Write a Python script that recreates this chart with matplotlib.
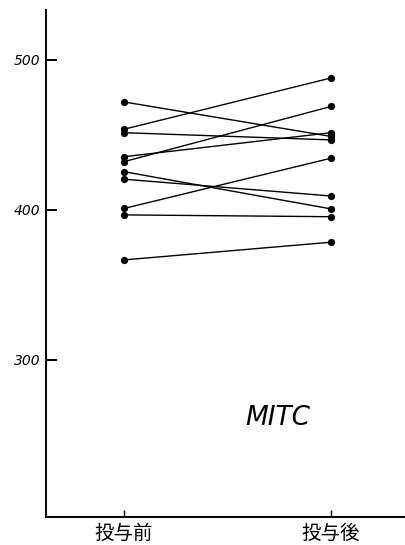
import matplotlib
matplotlib.use('Agg')
import matplotlib.pyplot as plt

plt.rcParams['font.family'] = ['Noto Sans CJK JP', 'DejaVu Sans']

groups = ['投与前', '投与後']
before = [472, 453.8, 451.5, 435.5, 432.2, 425.5, 420.5, 401, 396.7, 366.7]
after = [449, 488, 446.7, 451.5, 469, 400.7, 409.3, 434.5, 395.5, 378.5]
yticks = [300, 400, 500]
label = 'MITC'

fig = plt.figure(figsize=(4.05, 5.45), dpi=100)
ax = fig.add_axes([46 / 405, 28 / 545, 1 - 46 / 405, (517 - 10) / 545])

for b, a in zip(before, after):
    ax.plot([0, 1], [b, a], color='black', lw=1.0, marker='o', ms=4.2,
            solid_capstyle='round')

ax.set_xlim(-0.377, 1.357)
ax.set_ylim(195.3, 533.3)

ax.spines['top'].set_visible(False)
ax.spines['right'].set_visible(False)
ax.spines['left'].set_linewidth(1.4)
ax.spines['bottom'].set_linewidth(1.4)

ax.set_xticks([0, 1])
ax.set_xticklabels(groups, fontsize=14)
ax.set_yticks(yticks)
ax.set_yticklabels([str(t) for t in yticks], fontsize=10, style='italic',
                   family='DejaVu Sans')
ax.tick_params(axis='y', direction='in', length=8, width=1.4, pad=4)
ax.tick_params(axis='x', direction='in', length=5, width=1.0, pad=4)

ax.text(0.745, 261, label, fontsize=19, style='italic', family='DejaVu Sans',
        fontweight='light', ha='center', va='center')

fig.savefig('out.png', dpi=100)
